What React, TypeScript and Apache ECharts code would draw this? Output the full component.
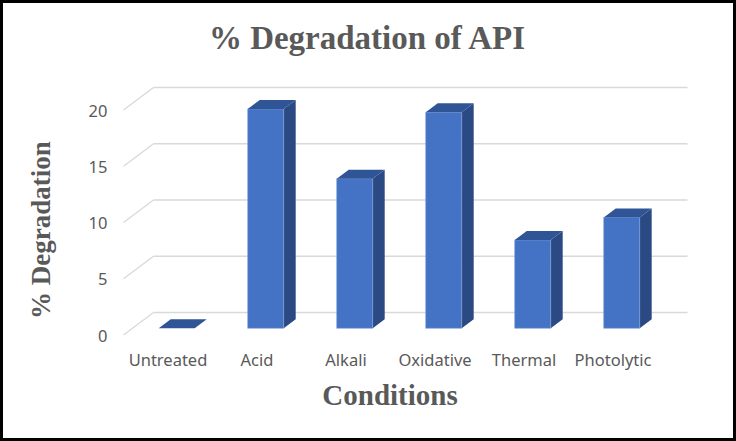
import React, { useEffect, useRef } from "react";
import * as echarts from "echarts";

const categories = ["Untreated", "Acid", "Alkali", "Oxidative", "Thermal", "Photolytic"];
const degradation = [0, 19.5, 13.3, 19.2, 7.85, 9.85];
const yTicks = [0, 5, 10, 15, 20];

const FRONT = "#4472C4";
const TOP = "#2F5597";
const SIDE = "#2B4A84";
const GRID = "#D9D9D9";
const TEXT = "#595959";

// offsets for pseudo-3D planes
const WALL_DX = 30;
const WALL_DY = -22.5;
const BAR_DX = 8.7;
const BAR_DY = -6.7;
const DEPTH_DX = 12;
const DEPTH_DY = -9;
const BAR_W = 36;

export default function App() {
  const ref = useRef<HTMLDivElement>(null);
  useEffect(() => {
    document.body.style.margin = "0";
    if (!ref.current) return;
    const chart = echarts.init(ref.current, undefined, { renderer: "svg" });
    chart.setOption({
      animation: false,
      backgroundColor: "#FFFFFF",
      grid: { left: 123.5, right: 78.5, top: 110, bottom: 106 },
      xAxis: {
        type: "category",
        data: categories,
        axisLine: { show: false },
        axisTick: { show: false },
        splitLine: { show: false },
        axisLabel: { color: TEXT, fontFamily: "Noto Sans", fontSize: 16.5, margin: 16, interval: 0 },
      },
      yAxis: {
        type: "value",
        min: 0,
        max: 20,
        interval: 5,
        axisLine: { show: false },
        axisTick: { show: false },
        splitLine: { show: false },
        axisLabel: { color: TEXT, fontFamily: "Noto Sans", fontSize: 16.5, margin: 16 },
      },
      graphic: [
        {
          type: "text",
          x: 367,
          y: 38,
          style: {
            text: "% Degradation of API",
            fill: TEXT,
            font: "bold 33px 'Liberation Serif'",
            align: "center",
            verticalAlign: "middle",
          },
        },
        {
          type: "text",
          x: 390,
          y: 395,
          style: {
            text: "Conditions",
            fill: TEXT,
            font: "bold 29px 'Liberation Serif'",
            align: "center",
            verticalAlign: "middle",
          },
        },
        {
          type: "text",
          x: 41,
          y: 230,
          rotation: Math.PI / 2,
          style: {
            text: "% Degradation",
            fill: TEXT,
            font: "bold 27px 'Liberation Serif'",
            align: "center",
            verticalAlign: "middle",
          },
        },
        {
          type: "rect",
          shape: { x: 1.5, y: 1.5, width: 733, height: 438 },
          style: { fill: "none", stroke: "#000000", lineWidth: 3 },
          z: 100,
        },
      ],
      series: [
        {
          type: "custom",
          name: "walls",
          data: yTicks.map((v) => [0, v]),
          z: 1,
          renderItem: (params: any, api: any) => {
            const cs = params.coordSys;
            const y = api.coord([0, api.value(1)])[1];
            const x0 = cs.x;
            const x1 = cs.x + cs.width;
            return {
              type: "group",
              children: [
                {
                  type: "line",
                  shape: { x1: x0, y1: y, x2: x0 + WALL_DX, y2: y + WALL_DY },
                  style: { stroke: GRID, lineWidth: 1.3 },
                },
                {
                  type: "line",
                  shape: { x1: x0 + WALL_DX, y1: y + WALL_DY, x2: x1 + WALL_DX, y2: y + WALL_DY },
                  style: { stroke: GRID, lineWidth: 1.3 },
                },
              ],
            };
          },
        },
        {
          type: "custom",
          name: "% Degradation",
          data: degradation.map((v, i) => [i, v]),
          z: 2,
          renderItem: (params: any, api: any) => {
            const top = api.coord([api.value(0), api.value(1)]);
            const base = api.coord([api.value(0), 0]);
            const cx = base[0] + BAR_DX;
            const xl = cx - BAR_W / 2;
            const xr = cx + BAR_W / 2;
            const yb = base[1] + BAR_DY;
            const yt = top[1] + BAR_DY;
            const children: any[] = [];
            if (yb - yt > 0.5) {
              children.push({
                type: "polygon",
                shape: { points: [[xr, yt], [xr + DEPTH_DX, yt + DEPTH_DY], [xr + DEPTH_DX, yb + DEPTH_DY], [xr, yb]] },
                style: { fill: SIDE },
              });
              children.push({
                type: "rect",
                shape: { x: xl, y: yt, width: BAR_W, height: yb - yt },
                style: { fill: FRONT, stroke: "#7E9FD8", lineWidth: 0.6 },
              });
            }
            children.push({
              type: "polygon",
              shape: { points: [[xl, yt], [xl + DEPTH_DX, yt + DEPTH_DY], [xr + DEPTH_DX, yt + DEPTH_DY], [xr, yt]] },
              style: { fill: TOP },
            });
            return { type: "group", children };
          },
        },
      ],
    });
    return () => chart.dispose();
  }, []);
  return <div ref={ref} style={{ width: 736, height: 441 }} />;
}
